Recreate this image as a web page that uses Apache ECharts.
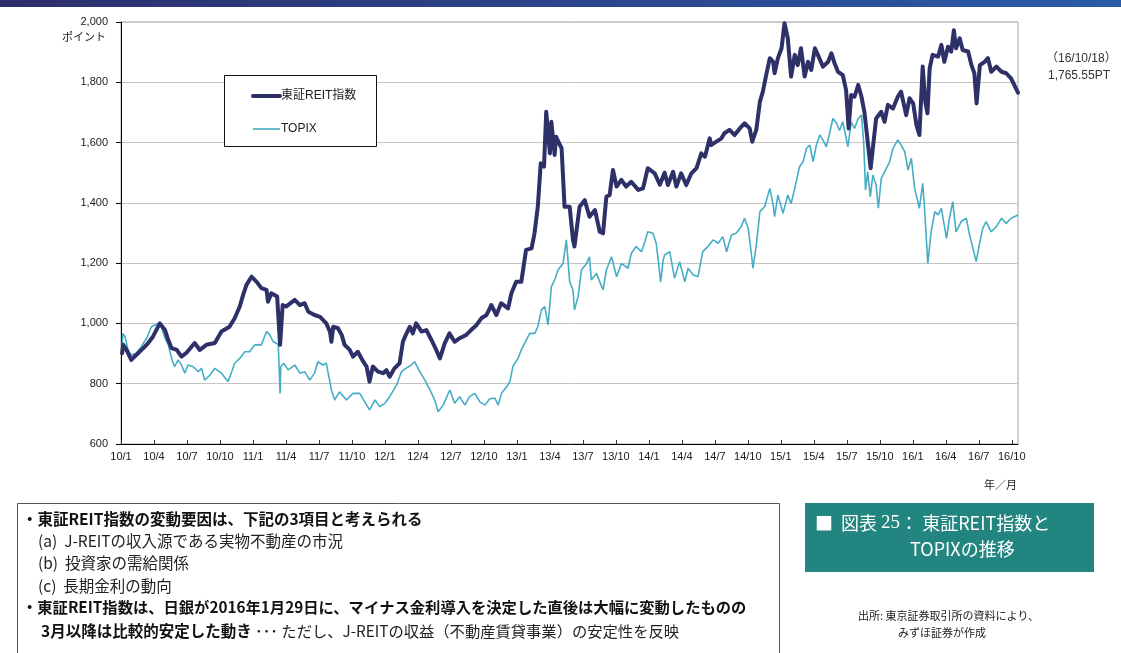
<!DOCTYPE html>
<html lang="ja">
<head>
<meta charset="utf-8">
<title>東証REIT指数とTOPIXの推移</title>
<script src="https://cdn.jsdelivr.net/npm/echarts@6/dist/echarts.min.js"></script>
<style>
  html, body { margin: 0; padding: 0; background: #ffffff; }
  #chart { width: 1121px; height: 653px; }
</style>
</head>
<body>
<div id="chart"></div>
<script>
// 東証REIT指数 (ポイント), 2010/1 – 2016/10/18
const reitDates = [
  '10/01/04','10/01/07','10/01/16','10/01/29','10/02/18','10/03/02','10/03/15','10/03/28','10/04/17','10/05/01',
  '10/05/10','10/05/19','10/06/03','10/06/16','10/06/29','10/07/22','10/08/06','10/08/24','10/09/17','10/10/05',
  '10/10/27','10/11/11','10/11/25','10/12/04','10/12/13','10/12/27','11/01/11','11/01/24','11/02/08','11/02/12',
  '11/02/21','11/03/07','11/03/15','11/03/22','11/04/01','11/04/25','11/05/09','11/05/22','11/06/02','11/06/19',
  '11/07/04','11/07/21','11/08/01','11/08/05','11/08/10','11/08/23','11/09/03','11/09/11','11/09/25','11/10/04',
  '11/10/17','11/11/02','11/11/11','11/11/19','11/11/28','11/12/12','11/12/26','12/01/05','12/01/14','12/01/27',
  '12/02/11','12/02/20','12/02/28','12/03/09','12/03/17','12/03/26','12/04/11','12/04/24','12/05/08','12/05/21',
  '12/06/01','12/06/14','12/06/27','12/07/11','12/07/25','12/08/13','12/08/26','12/09/11','12/09/24','12/10/08',
  '12/10/17','12/10/21','12/11/05','12/11/18','12/12/07','12/12/16','12/12/29','13/01/13','13/01/26','13/02/11',
  '13/02/19','13/02/28','13/03/06','13/03/15','13/03/21','13/04/01','13/04/05','13/04/14','13/04/18','13/05/03',
  '13/05/11','13/05/25','13/06/04','13/06/08','13/06/22','13/07/06','13/07/19','13/08/04','13/08/17','13/08/26',
  '13/09/05','13/09/14','13/09/23','13/10/03','13/10/16','13/10/29','13/11/13','13/12/02','13/12/15','13/12/28',
  '14/01/17','14/02/01','14/02/14','14/02/23','14/03/07','14/03/16','14/03/29','14/04/13','14/04/27','14/05/11',
  '14/05/24','14/06/04','14/06/17','14/06/21','14/07/05','14/07/19','14/07/27','14/08/11','14/08/25','14/09/09',
  '14/09/22','14/10/06','14/10/13','14/10/24','14/11/04','14/11/12','14/11/21','14/12/01','14/12/10','14/12/14',
  '14/12/23','15/01/03','15/01/11','15/01/20','15/01/29','15/02/09','15/02/17','15/02/26','15/03/06','15/03/15',
  '15/03/24','15/04/04','15/04/12','15/04/26','15/05/10','15/05/19','15/05/27','15/06/07','15/06/20','15/06/29',
  '15/07/06','15/07/13','15/07/22','15/08/02','15/08/11','15/08/19','15/08/28','15/09/06','15/09/12','15/09/21',
  '15/10/05','15/10/14','15/10/23','15/11/07','15/11/20','15/11/29','15/12/13','15/12/22','16/01/02','16/01/11',
  '16/01/19','16/01/28','16/02/05','16/02/11','16/02/17','16/02/25','16/03/10','16/03/19','16/03/27','16/04/07',
  '16/04/16','16/04/23','16/04/29','16/05/09','16/05/17','16/06/02','16/06/11','16/06/19','16/06/25','16/07/04',
  '16/07/17','16/07/26','16/08/05','16/08/19','16/09/03','16/09/16','16/09/29','16/10/18'
];
const reitValues = [
  901, 929, 912, 879, 902, 918, 935, 956, 1000, 978,
  945, 918, 912, 890, 902, 935, 912, 929, 935, 973,
  989, 1017, 1056, 1094, 1127, 1155, 1138, 1117, 1111, 1072,
  1100, 1089, 929, 1061, 1056, 1078, 1061, 1067, 1039, 1028,
  1022, 1000, 973, 939, 989, 984, 962, 929, 912, 890,
  906, 873, 857, 807, 857, 840, 835, 845, 823, 851,
  868, 939, 962, 989, 967, 1000, 973, 978, 945, 912,
  884, 934, 967, 939, 951, 962, 978, 995, 1017, 1028,
  1050, 1061, 1028, 1067, 1050, 1100, 1138, 1138, 1244, 1249,
  1299, 1387, 1531, 1520, 1702, 1564, 1669, 1559, 1619, 1581,
  1387, 1387, 1277, 1255, 1387, 1409, 1354, 1376, 1304, 1299,
  1420, 1426, 1509, 1454, 1476, 1454, 1470, 1443, 1448, 1515,
  1498, 1460, 1500, 1459, 1503, 1454, 1498, 1459, 1498, 1515,
  1564, 1553, 1614, 1592, 1603, 1614, 1631, 1642, 1625, 1647,
  1664, 1647, 1603, 1642, 1736, 1769, 1824, 1880, 1868, 1830,
  1880, 1913, 1996, 1946, 1819, 1891, 1857, 1913, 1819, 1868,
  1841, 1913, 1891, 1852, 1868, 1896, 1865, 1835, 1824, 1774,
  1647, 1758, 1752, 1791, 1752, 1702, 1603, 1515, 1581, 1680,
  1702, 1669, 1725, 1713, 1752, 1769, 1691, 1747, 1730, 1658,
  1625, 1852, 1736, 1697, 1846, 1891, 1885, 1924, 1868, 1918,
  1902, 1973, 1913, 1946, 1907, 1902, 1857, 1830, 1730, 1857,
  1868, 1880, 1835, 1852, 1835, 1830, 1813, 1765.55
];

// TOPIX (ポイント), same period
const topixDates = [
  '10/01/04','10/01/06','10/01/12','10/01/20','10/01/29','10/02/13','10/02/26','10/03/11','10/03/24','10/04/04',
  '10/04/12','10/04/21','10/05/01','10/05/10','10/05/19','10/05/27','10/06/07','10/06/16','10/06/25','10/07/04',
  '10/07/17','10/08/02','10/08/11','10/08/19','10/09/04','10/09/17','10/10/05','10/10/23','10/11/03','10/11/11',
  '10/11/25','10/12/09','10/12/22','11/01/06','11/01/24','11/02/08','11/02/17','11/02/26','11/03/10','11/03/15',
  '11/03/17','11/03/25','11/04/07','11/04/25','11/05/09','11/05/22','11/06/06','11/06/19','11/06/28','11/07/12',
  '11/07/21','11/08/05','11/08/14','11/08/27','11/09/16','11/10/04','11/10/22','11/11/06','11/11/19','11/12/04',
  '11/12/17','12/01/01','12/01/14','12/02/03','12/02/16','12/02/28','12/03/13','12/03/22','12/04/06','12/04/20',
  '12/05/04','12/05/17','12/05/26','12/06/10','12/06/28','12/07/11','12/07/25','12/08/09','12/08/22','12/09/06',
  '12/09/20','12/10/04','12/10/17','12/11/01','12/11/10','12/11/19','12/12/03','12/12/12','12/12/20','13/01/04',
  '13/01/13','13/01/22','13/02/06','13/02/20','13/02/28','13/03/08','13/03/17','13/03/26','13/04/05','13/04/14',
  '13/04/23','13/05/07','13/05/16','13/05/25','13/06/04','13/06/08','13/06/18','13/06/27','13/07/11','13/07/19',
  '13/07/24','13/08/08','13/08/17','13/08/26','13/09/05','13/09/19','13/10/03','13/10/16','13/11/04','13/11/13',
  '13/11/26','13/12/11','13/12/20','13/12/28','14/01/12','14/01/21','14/01/26','14/02/03','14/02/10','14/02/14',
  '14/02/28','14/03/11','14/03/25','14/04/09','14/04/18','14/05/02','14/05/15','14/05/28','14/06/12','14/06/26',
  '14/07/10','14/07/23','14/08/03','14/08/16','14/08/29','14/09/13','14/09/22','14/10/02','14/10/11','14/10/15',
  '14/10/24','14/11/04','14/11/17','14/12/01','14/12/10','14/12/14','14/12/23','15/01/07','15/01/20','15/01/29',
  '15/02/09','15/02/22','15/03/02','15/03/11','15/03/20','15/03/29','15/04/08','15/04/17','15/04/26','15/05/05',
  '15/05/14','15/05/23','15/06/03','15/06/11','15/06/20','15/07/04','15/07/13','15/07/22','15/08/02','15/08/11',
  '15/08/17','15/08/22','15/08/28','15/09/05','15/09/12','15/09/21','15/09/27','15/10/05','15/10/14','15/10/28',
  '15/11/07','15/11/20','15/11/29','15/12/09','15/12/18','15/12/27','16/01/06','16/01/19','16/01/28','16/02/03',
  '16/02/12','16/02/21','16/03/01','16/03/10','16/03/19','16/04/03','16/04/11','16/04/20','16/04/29','16/05/13',
  '16/05/27','16/06/06','16/06/15','16/06/24','16/07/04','16/07/12','16/07/21','16/08/05','16/08/19','16/09/03',
  '16/09/16','16/09/29','16/10/18'
];
const topixValues = [
  923, 967, 956, 912, 895, 901, 923, 951, 989, 995,
  1000, 989, 951, 929, 884, 857, 879, 862, 835, 862,
  857, 840, 851, 812, 829, 851, 835, 807, 840, 868,
  884, 906, 906, 929, 929, 973, 962, 940, 930, 768,
  857, 868, 846, 862, 835, 840, 812, 835, 873, 862,
  868, 779, 746, 773, 746, 768, 768, 740, 713, 746,
  724, 735, 757, 796, 840, 851, 862, 873, 840, 812,
  779, 746, 707, 729, 779, 735, 757, 729, 757, 768,
  740, 729, 750, 752, 729, 768, 790, 807, 857, 884,
  912, 934, 967, 967, 989, 1045, 1056, 995, 1122, 1144,
  1177, 1199, 1277, 1138, 1111, 1045, 1089, 1177, 1199, 1221,
  1144, 1166, 1138, 1111, 1177, 1221, 1155, 1199, 1183, 1232,
  1255, 1238, 1271, 1304, 1299, 1266, 1216, 1138, 1210, 1227,
  1238, 1150, 1205, 1138, 1183, 1161, 1155, 1238, 1255, 1277,
  1266, 1288, 1238, 1293, 1299, 1321, 1349, 1316, 1227, 1183,
  1260, 1371, 1387, 1448, 1393, 1354, 1426, 1365, 1426, 1398,
  1448, 1520, 1537, 1581, 1592, 1537, 1592, 1625, 1609, 1586,
  1631, 1680, 1664, 1640, 1669, 1586, 1669, 1647, 1680, 1691,
  1603, 1443, 1503, 1420, 1492, 1459, 1382, 1481, 1503, 1537,
  1581, 1609, 1592, 1570, 1509, 1548, 1448, 1382, 1465, 1382,
  1199, 1304, 1371, 1360, 1382, 1282, 1349, 1404, 1304, 1338,
  1349, 1293, 1249, 1205, 1271, 1316, 1338, 1304, 1321, 1349,
  1332, 1349, 1360
];

// y-axis range and step (ポイント)
const yMin = 600, yMax = 2000, yStep = 200;
// x-axis: months counted from 2010/1, one label per quarter
const startYear = 2010;
const lastDate = '16/10/18';
const tickMonths = 3;

const FONT = "'Liberation Sans', Arial, 'Noto Sans CJK JP', sans-serif";
const JP = "'Noto Sans CJK JP', 'Liberation Sans', sans-serif";

// 'YY/MM/DD' -> months elapsed since the start of 2010
function toMonths(s) {
  const [yy, mm, dd] = s.split('/').map(Number);
  return (2000 + yy - startYear) * 12 + (mm - 1) + (dd - 1) / 30;
}
function pairs(dates, values) {
  return dates.map((d, i) => [toMonths(d), values[i]]);
}

const chart = echarts.init(document.getElementById('chart'), null, { renderer: 'canvas' });

const option = {
  backgroundColor: '#ffffff',
  animation: false,
  grid: {
    left: 121, right: 103, top: 22, bottom: 209,
    show: true, borderColor: '#a6a6a6', borderWidth: 1, backgroundColor: 'transparent'
  },
  legend: {
    data: ['東証REIT指数', 'TOPIX'],
    orient: 'vertical',
    left: 246, top: 85,
    itemWidth: 27, itemHeight: 14, itemGap: 21,
    textStyle: { fontFamily: FONT, fontSize: 12, color: '#222', padding: [0, 0, 0, -4] },
    lineStyle: { width: 'inherit' },
    // line-only keys: the marker dot is hidden
    itemStyle: { color: 'transparent', borderWidth: 0, opacity: 0 },
    selectedMode: false
  },
  xAxis: {
    type: 'value',
    min: 0,
    max: toMonths(lastDate),
    interval: tickMonths,
    axisLine: { show: true, onZero: false, lineStyle: { color: '#000', width: 1 } },
    axisTick: { show: true, inside: true, length: 4, lineStyle: { color: '#333' } },
    splitLine: { show: false },
    axisLabel: {
      showMaxLabel: false,
      margin: 7,
      fontFamily: FONT, fontSize: 11, color: '#1a1a1a',
      formatter: function (v) {
        const m = Math.round(v);
        if (Math.abs(v - m) > 1e-6 || m % tickMonths !== 0) return '';
        const yy = (startYear - 2000) + Math.floor(m / 12);
        return yy + '/' + (m % 12 + 1);
      }
    }
  },
  yAxis: {
    type: 'value',
    min: yMin, max: yMax, interval: yStep,
    axisLine: { show: true, lineStyle: { color: '#000', width: 1 } },
    axisTick: { show: true, length: 5, lineStyle: { color: '#000' } },
    splitLine: { show: true, lineStyle: { color: '#c4c4c4', width: 1 } },
    axisLabel: {
      margin: 13,
      fontFamily: FONT, fontSize: 11, color: '#1a1a1a',
      formatter: v => v.toLocaleString('en-US')
    }
  },
  series: [
    {
      name: 'TOPIX',
      type: 'line',
      data: pairs(topixDates, topixValues),
      showSymbol: false, symbol: 'none',
      lineStyle: { color: '#45adc6', width: 1.6 },
      itemStyle: { color: '#45adc6' },
      z: 2
    },
    {
      name: '東証REIT指数',
      type: 'line',
      data: pairs(reitDates, reitValues),
      showSymbol: false, symbol: 'none',
      lineStyle: { color: '#2e3068', width: 4, join: 'round', cap: 'round' },
      itemStyle: { color: '#2e3068' },
      z: 3
    }
  ],
  graphic: [
    // header band
    {
      type: 'rect', left: 0, top: 0, z: 10,
      shape: { width: 1121, height: 7 },
      style: {
        fill: new echarts.graphic.LinearGradient(0, 0, 1, 0, [
          { offset: 0, color: '#2d2e6c' },
          { offset: 1, color: '#2a5ba8' }
        ])
      }
    },
    // unit under the top tick label
    {
      type: 'text', right: 1121 - 106, top: 31, z: 10,
      style: { text: 'ポイント', font: "11px " + JP, fill: '#1a1a1a' }
    },
    // latest value note
    {
      type: 'text', left: 1046, top: 53, z: 10,
      style: { text: '（16/10/18）', font: "12px " + FONT, fill: '#333' }
    },
    {
      type: 'text', left: 1048, top: 70, z: 10,
      style: { text: '1,765.55PT', font: "12px " + FONT, fill: '#333' }
    },
    // x-axis unit
    {
      type: 'text', left: 984, top: 479, z: 10,
      style: { text: '年／月', font: "11px " + JP, fill: '#1a1a1a' }
    },
    // legend frame
    {
      type: 'rect', left: 224, top: 75, z: 1,
      shape: { width: 152, height: 71 },
      style: { fill: '#ffffff', stroke: '#111', lineWidth: 1 }
    },
    // commentary box
    {
      type: 'rect', left: 17, top: 503, z: 10,
      shape: { width: 762, height: 160 },
      style: { fill: '#ffffff', stroke: '#555', lineWidth: 1 }
    },
    {
      type: 'text', left: 22, top: 511, z: 11,
      style: { text: '・東証REIT指数の変動要因は、下記の3項目と考えられる', font: "bold 15.5px " + JP, fill: '#111' }
    },
    {
      type: 'text', left: 38, top: 533, z: 11,
      style: { text: '(a)  J-REITの収入源である実物不動産の市況', font: "15.5px " + JP, fill: '#222' }
    },
    {
      type: 'text', left: 38, top: 555, z: 11,
      style: { text: '(b)  投資家の需給関係', font: "15.5px " + JP, fill: '#222' }
    },
    {
      type: 'text', left: 38, top: 578, z: 11,
      style: { text: '(c)  長期金利の動向', font: "15.5px " + JP, fill: '#222' }
    },
    {
      type: 'text', left: 22, top: 600, z: 11,
      style: { text: '・東証REIT指数は、日銀が2016年1月29日に、マイナス金利導入を決定した直後は大幅に変動したものの', font: "bold 15.3px " + JP, fill: '#111' }
    },
    {
      type: 'text', left: 41, top: 623, z: 11,
      style: {
        text: '{b|3月以降は比較的安定した動き} {n|･･･ ただし、J-REITの収益（不動産賃貸事業）の安定性を反映}',
        rich: {
          b: { fontFamily: JP, fontSize: 15.5, fontWeight: 'bold', fill: '#111' },
          n: { fontFamily: JP, fontSize: 15.3, fill: '#222' }
        }
      }
    },
    // figure title box
    {
      type: 'rect', left: 805, top: 503, z: 10,
      shape: { width: 289, height: 69 },
      style: { fill: '#228580' }
    },
    {
      type: 'text', left: 815, top: 514, z: 11,
      style: {
        text: '{s|■  図表 }{n|25}{s|： 東証REIT指数と}',
        rich: {
          s: { fontFamily: JP, fontSize: 18, fill: '#ffffff' },
          n: { fontFamily: "'Liberation Serif', 'DejaVu Serif', serif", fontSize: 19, fill: '#ffffff' }
        }
      }
    },
    {
      type: 'text', left: 910, top: 540, z: 11,
      style: { text: 'TOPIXの推移', font: "18px " + JP, fill: '#ffffff' }
    },
    // source note
    {
      type: 'text', left: 858, top: 610, z: 10,
      style: { text: '出所: 東京証券取引所の資料により、', font: "11px " + JP, fill: '#222' }
    },
    {
      type: 'text', left: 898, top: 627, z: 10,
      style: { text: 'みずほ証券が作成', font: "11px " + JP, fill: '#222' }
    }
  ]
};

chart.setOption(option);
</script>
</body>
</html>
